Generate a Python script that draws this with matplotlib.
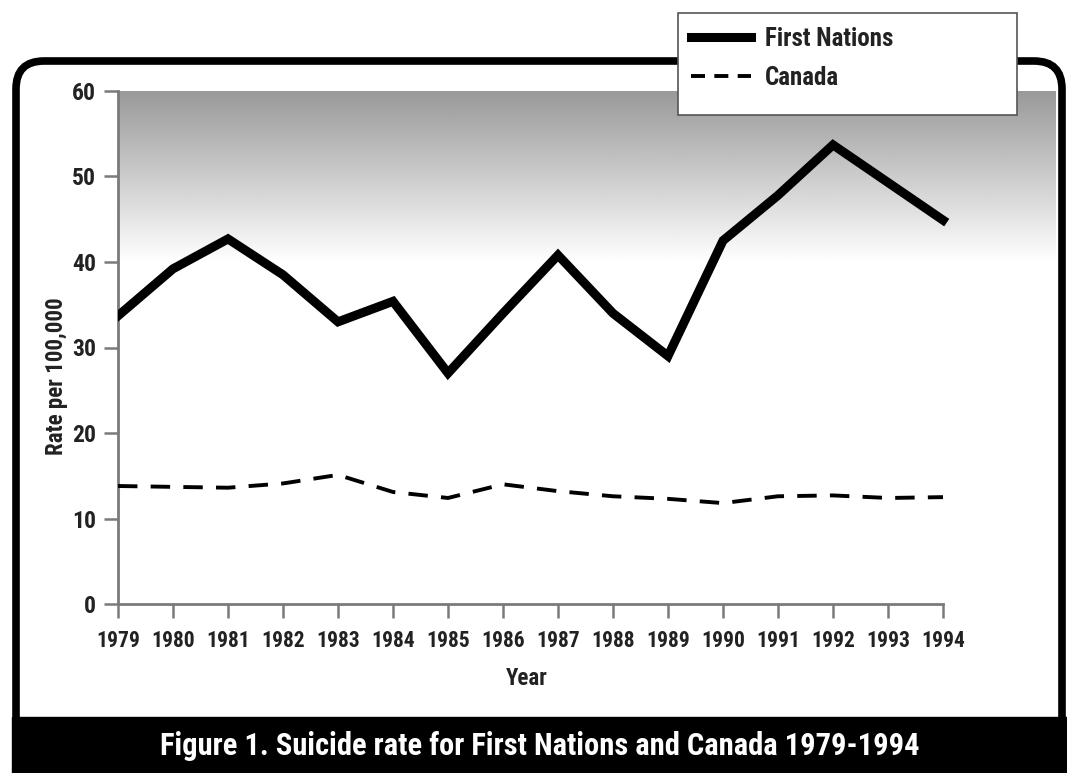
import numpy as np
import matplotlib
matplotlib.use('Agg')
import matplotlib.pyplot as plt
from matplotlib.patches import FancyBboxPatch, Rectangle

years = np.arange(1979, 1995)
first_nations = [33.7, 39.2, 42.7, 38.5, 33.0, 35.4, 27.0, 34.0,
                 40.8, 34.0, 29.0, 42.5, 47.8, 53.7, 49.3, 44.9]
canada = [13.8, 13.7, 13.6, 14.1, 15.1, 13.1, 12.4, 14.0,
          13.2, 12.6, 12.3, 11.8, 12.6, 12.7, 12.4, 12.5]
yticks = [0, 10, 20, 30, 40, 50, 60]
caption = 'Figure 1. Suicide rate for First Nations and Canada 1979-1994'

plt.rcParams['font.family'] = ['Roboto Condensed', 'Liberation Sans Narrow', 'DejaVu Sans']

W, H = 1067, 773
fig = plt.figure(figsize=(W / 100, H / 100), dpi=100)
fig.patch.set_facecolor('white')

# background layer: rounded frame + caption bar (pixel coords)
bg = fig.add_axes([0, 0, 1, 1], zorder=0)
bg.set_xlim(0, W)
bg.set_ylim(H, 0)
bg.axis('off')
frame = FancyBboxPatch((16, 61), 1046, 700, boxstyle='round,pad=0,rounding_size=28',
                       linewidth=5.5, edgecolor='black', facecolor='white')
bg.add_patch(frame)
bg.add_patch(Rectangle((12, 717), W - 12, H - 717, color='black'))
bg.text(540, 746, caption, color='white', fontsize=22, ha='center', va='center',
        fontweight='bold')

# main axes
x0, x1 = 118, 1056
y0, y1 = 604, 91
ax = fig.add_axes([x0 / W, 1 - y0 / H, (x1 - x0) / W, (y0 - y1) / H], zorder=1)
ax.patch.set_alpha(0)
xmax = 1979 + (x1 - x0) / 55.0
ax.set_xlim(1979, xmax)
ax.set_ylim(0, 60)

grad = np.linspace(0.6, 1.0, 256).reshape(-1, 1)
ax.imshow(grad, extent=[1979, xmax, 40, 60], aspect='auto', cmap='gray',
          vmin=0, vmax=1, zorder=0)

ln1, = ax.plot(years, first_nations, color='black', linewidth=6.5,
               solid_joinstyle='miter', zorder=3)
ln2, = ax.plot(years, canada, color='black', linewidth=2.8,
               dashes=(5, 3.4), zorder=3)

for s in ['top', 'right']:
    ax.spines[s].set_visible(False)
for s in ['left', 'bottom']:
    ax.spines[s].set_color('#7a7a7a')
    ax.spines[s].set_linewidth(2)
ax.spines['bottom'].set_bounds(1979, 1994)
ax.set_xticks(years)
ax.set_xticklabels([str(y) for y in years])
ax.set_yticks(yticks)
ax.tick_params(axis='both', colors='#7a7a7a', width=1.8, length=10, labelcolor='#222222')
ax.tick_params(axis='x', labelsize=15.5, pad=9)
ax.tick_params(axis='y', labelsize=17, pad=6)
for lab in ax.get_xticklabels() + ax.get_yticklabels():
    lab.set_fontweight('bold')

ax.set_ylabel('Rate per 100,000', fontsize=16.5, color='#222222', fontweight='bold')
ax.yaxis.set_label_coords(-0.053, 0.444)
ax.set_xlabel('Year', fontsize=16.5, color='#222222', fontweight='bold')
ax.xaxis.set_label_coords(0.4356, -0.123)

# overlay: legend box
ov = fig.add_axes([0, 0, 1, 1], zorder=2)
ov.set_xlim(0, W)
ov.set_ylim(H, 0)
ov.axis('off')
ov.patch.set_alpha(0)
ov.add_patch(Rectangle((678, 13), 339, 102, facecolor='white', edgecolor='#555555',
                       linewidth=1.2))
leg = ov.legend([ln1, ln2], ['First Nations', 'Canada'], loc='upper left',
                bbox_to_anchor=(686 / W, 1 - 22 / H), frameon=False, fontsize=18,
                handlelength=2.4, handletextpad=0.55, labelspacing=0.6,
                borderaxespad=0, borderpad=0.2)
for t in leg.get_texts():
    t.set_fontweight('bold')
    t.set_color('#222222')
leg.legend_handles[1].set_dashes((3.6, 2.4))

fig.savefig('out.png', dpi=100)
